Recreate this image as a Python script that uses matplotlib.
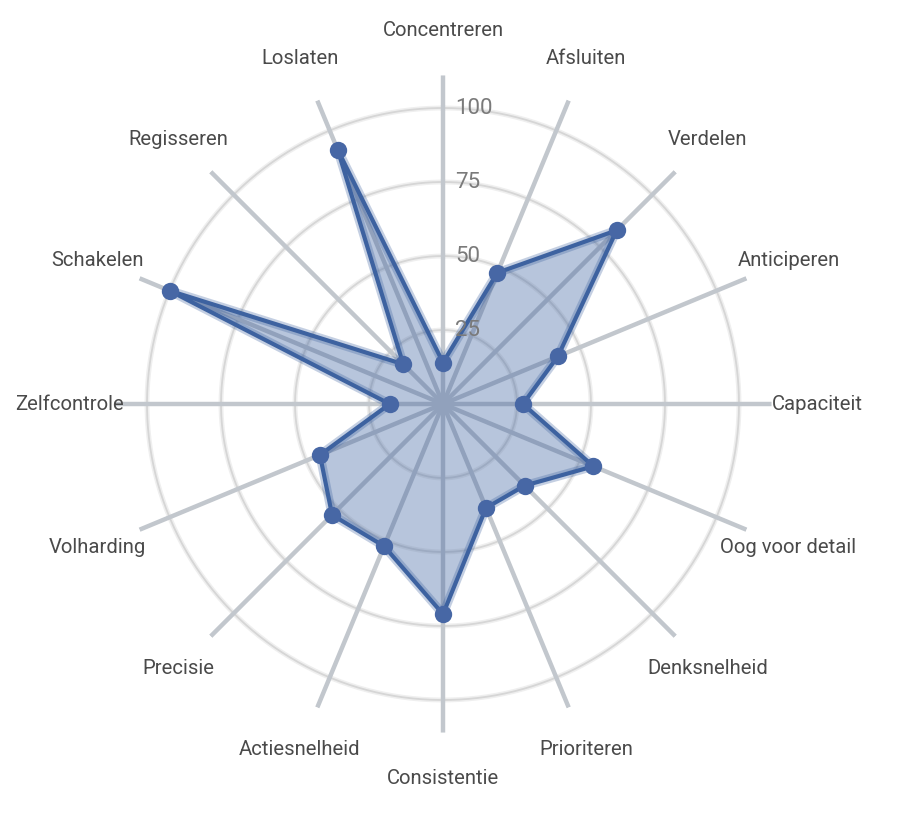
import numpy as np
import matplotlib
matplotlib.use("Agg")
import matplotlib.pyplot as plt
import matplotlib.patheffects as pe

# categorieen, met de klok mee vanaf boven
labels = ["Concentreren", "Afsluiten", "Verdelen", "Anticiperen", "Capaciteit",
          "Oog voor detail", "Denksnelheid", "Prioriteren", "Consistentie",
          "Actiesnelheid", "Precisie", "Volharding", "Zelfcontrole",
          "Schakelen", "Regisseren", "Loslaten"]
scores = [14, 48, 83, 42, 27, 55, 39, 38, 71, 52, 53, 45, 18, 100, 19, 93]
ticks = [25, 50, 75, 100]

plt.rcParams['font.family'] = ['Roboto', 'DejaVu Sans']

W, H = 906, 816
cx, cy = 443, 412          # midden, pixels van onder
px100 = 296.0              # pixels voor waarde 100
rmax = 111
half = rmax * px100 / 100

fig = plt.figure(figsize=(W / 100, H / 100), dpi=100)
ax = fig.add_axes([(cx - half) / W, (cy - half) / H, 2 * half / W, 2 * half / H],
                  projection='polar')
ax.set_theta_zero_location('N')
ax.set_theta_direction(-1)
ax.set_ylim(0, rmax)
ax.axis('off')

n = len(labels)
angles = np.arange(n) * 2 * np.pi / n

# ringen (wat vaag)
circ = np.linspace(0, 2 * np.pi, 400)
for t in ticks:
    ax.plot(circ, np.full_like(circ, t), color='#efefef', lw=3.5, zorder=1)
    ax.plot(circ, np.full_like(circ, t), color='#d6d6d6', lw=1.3, zorder=1)

# spaken
for a in angles:
    ax.plot([a, a], [0, rmax], color='#c2c7cd', lw=3.2, zorder=2, solid_capstyle='butt')

# data
a_closed = np.append(angles, angles[0])
s_closed = np.append(scores, scores[0])
ax.fill(a_closed, s_closed, color='#3d62a0', alpha=0.37, lw=0, zorder=3)
ax.plot(a_closed, s_closed, color='#3d62a0', lw=3, zorder=4,
        path_effects=[pe.Stroke(linewidth=6.5, foreground='#3d62a0', alpha=0.3), pe.Normal()])
ax.plot(angles, scores, 'o', color='#4767a5', ms=12.5, mec='none', zorder=5)

# schaalwaarden
for t in ticks:
    ax.annotate(str(t), xy=(0, t), xytext=(8.5, 0), textcoords='offset points',
                ha='left', va='center', fontsize=16, color='#7a7a7a', zorder=6)

# labels
rl = 374 / px100 * 100
for a, lab in zip(angles, labels):
    ax.text(a, rl, lab, ha='center', va='center', fontsize=14.6, color='#4a4a4a',
            clip_on=False)

fig.savefig('out.png', dpi=100, facecolor='white')
